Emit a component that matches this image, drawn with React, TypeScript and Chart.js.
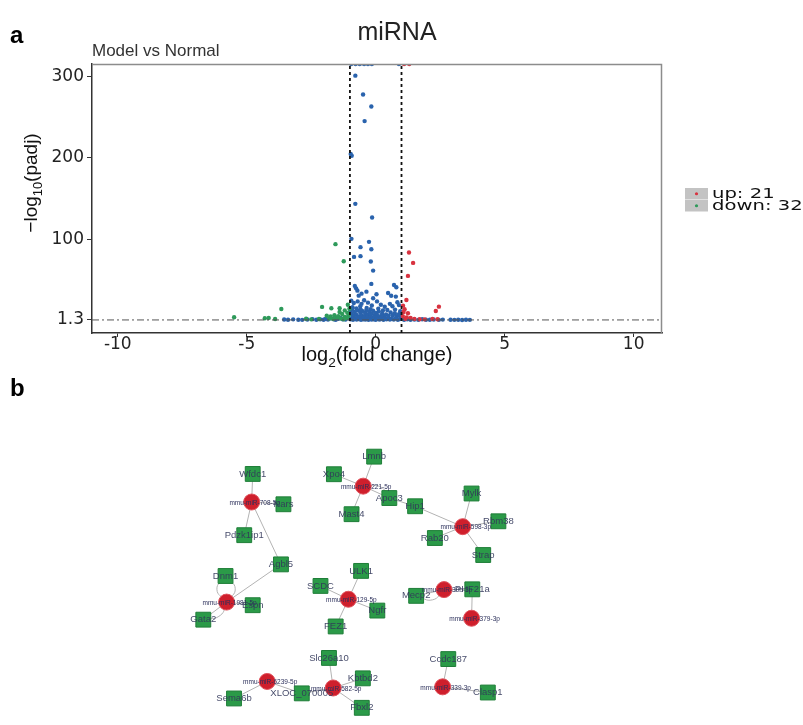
import React, { useEffect, useRef } from "react";
import { Chart, registerables } from "chart.js";

Chart.register(...registerables);

// ---------------- Panel a: volcano plot data ----------------
const TITLE = "miRNA";
const SUBTITLE = "Model vs Normal";
const xRange = [-11, 11.1];
const yRange = [-14.7, 315];
const xTicks = [-10, -5, 0, 5, 10];
const xTickLabels = ["-10", "-5", "0", "5", "10"];
const yTicks = [1.3, 100, 200, 300];
const yTickLabels = ["1.3", "100", "200", "300"];
const foldChangeCutoffs = [-1, 1];
const padjCutoff = 1.3;
const legendLabels = ["up: 21", "down: 32"];

// [log2 fold change, -log10 padj]
const upPoints: [number, number][] = [
  [1.1, 315], [1.3, 315], [1.29, 83.9], [1.45, 71.2], [1.25, 55.3], [1.19, 25.8],
  [1.06, 18.8], [1.12, 14.5], [1.25, 9.5], [1.08, 11], [2.45, 17.6], [2.33, 12.3],
  [1.05, 6], [1.2, 4.5], [1.35, 3.8], [1.15, 2.8], [1.5, 2.6], [1.7, 2.2],
  [1.9, 2], [2.2, 2.6], [2.4, 2.2],
];

const downPoints: [number, number][] = [
  [-5.49, 4.6], [-4.3, 3.4], [-4.15, 3.8], [-3.9, 2.5], [-3.66, 14.8], [-2.7, 2.8],
  [-2.5, 2], [-2.2, 2.5], [-2.08, 17.3], [-1.9, 6.5], [-1.8, 3], [-1.75, 5.5],
  [-1.72, 15.6], [-1.65, 2.5], [-1.6, 7], [-1.56, 94.2], [-1.5, 4], [-1.45, 6],
  [-1.4, 15.6], [-1.4, 11], [-1.35, 3], [-1.3, 8.5], [-1.25, 2.2], [-1.24, 73.3],
  [-1.2, 5], [-1.2, 13], [-1.15, 3.5], [-1.1, 10], [-1.1, 4.2], [-1.08, 20],
  [-1.05, 7], [-1.02, 15],
];

const noDiffPoints: [number, number][] = [
  [-0.95, 315], [-0.78, 315], [-0.62, 315], [-0.45, 315], [-0.3, 315], [-0.15, 315], [0.9, 315],
  [-0.79, 300.7], [-0.49, 277.7], [-0.17, 263], [-0.43, 245], [-0.97, 204.6], [-0.93, 202.5],
  [-0.79, 143.6], [-0.14, 126.8], [-0.94, 100.7], [-0.59, 90.5], [-0.26, 97], [-0.17, 88],
  [-0.84, 78.6], [-0.59, 79.5], [-0.19, 72.9], [-0.1, 61.8], [-0.17, 45.5], [-0.81, 43],
  [0.71, 44.2], [0.8, 41.4], [-0.71, 37.2], [-0.36, 36], [0.03, 32.8], [0.48, 34.4],
  [-0.66, 31.1], [-0.1, 27.9], [0.78, 29.9], [0.84, 23], [-0.76, 40], [-0.55, 33.5], [0.6, 31],
  [-0.95, 25], [-0.85, 22], [-0.7, 24], [-0.55, 21], [-0.45, 25.5], [-0.3, 22.5], [-0.15, 19],
  [0.05, 24], [0.2, 20], [0.35, 17.5], [0.55, 21], [0.65, 18], [0.9, 19.5], [-0.9, 17],
  [-0.75, 15.5], [-0.6, 18], [-0.35, 16], [-0.2, 14.5], [0.1, 15], [0.45, 13.5], [0.75, 14],
  [0.95, 12], [-0.98, 12.5],
  [-0.95, 9], [-0.88, 6.5], [-0.82, 11], [-0.76, 8], [-0.7, 13], [-0.66, 5.5], [-0.6, 10],
  [-0.55, 7], [-0.5, 12], [-0.45, 6], [-0.4, 9.5], [-0.36, 13.5], [-0.3, 7.5], [-0.25, 11],
  [-0.2, 5.5], [-0.15, 9], [-0.1, 12.5], [-0.05, 6.5], [0, 10], [0.05, 7.5], [0.12, 11.5],
  [0.18, 6], [0.25, 9], [0.32, 5.5], [0.4, 8], [0.5, 6.5], [0.58, 10.5], [0.66, 7],
  [0.74, 9.5], [0.82, 5.8], [0.9, 8.2], [0.96, 6.3], [-0.92, 13.8], [-0.58, 14], [0.28, 13],
  [-0.98, 2.1], [-0.93, 3.5], [-0.88, 1.6], [-0.84, 4.4], [-0.79, 2.7], [-0.74, 1.9],
  [-0.7, 3.8], [-0.65, 2.3], [-0.61, 4.8], [-0.57, 1.5], [-0.52, 3.1], [-0.48, 2],
  [-0.44, 4.2], [-0.4, 1.7], [-0.36, 2.9], [-0.32, 3.9], [-0.28, 1.5], [-0.24, 2.6],
  [-0.2, 4.6], [-0.16, 1.9], [-0.12, 3.3], [-0.08, 2.2], [-0.04, 4.1], [0, 1.6],
  [0.04, 2.9], [0.09, 3.8], [0.14, 1.8], [0.19, 2.5], [0.24, 4.3], [0.3, 1.5],
  [0.36, 3.1], [0.42, 2.2], [0.48, 3.9], [0.55, 1.7], [0.62, 2.8], [0.7, 1.9],
  [0.78, 3.4], [0.86, 1.6], [0.94, 2.5],
  [-3.55, 1.8], [-3.4, 1.5], [-3.2, 2], [-3.0, 1.6], [-2.85, 1.4], [-2.65, 1.9],
  [-2.45, 2.3], [-2.3, 1.6], [-2.15, 2.0], [-2.02, 1.5], [-1.95, 2.6], [-1.85, 1.8],
  [-1.75, 3.2], [-1.62, 2.1], [-1.55, 1.6], [-1.45, 2.8], [-1.36, 3.8], [-1.28, 2.2],
  [-1.17, 1.7], [-1.07, 4.5],
  [1.1, 1.6], [1.22, 2.1], [1.35, 1.5], [1.5, 1.9], [1.65, 1.4], [1.8, 2.2], [1.95, 1.6],
  [2.1, 1.5], [2.25, 1.8], [2.45, 1.4], [2.6, 1.7], [2.9, 1.6], [3.05, 1.4], [3.2, 1.5],
  [3.35, 1.3], [3.5, 1.6], [3.65, 1.4],
];

// ---------------- Panel b: network data ----------------
// [name, layout x, layout y] in a 0-100 layout space
const mirnaNodes: [string, number, number][] = [
  ["mmu-miR-708-5p", 20.3, 74.6],
  ["mmu-miR-1981-5p", 13.2, 39.3],
  ["mmu-miR-221-5p", 51.9, 80.2],
  ["mmu-miR-598-3p", 80.1, 65.9],
  ["mmu-miR-129-5p", 47.7, 40.3],
  ["mmu-miR-30b-3p", 74.8, 43.7],
  ["mmu-miR-379-3p", 82.6, 33.6],
  ["mmu-miR-582-5p", 43.4, 9.0],
  ["mmu-miR-6239-5p", 24.7, 11.3],
  ["mmu-miR-339-3p", 74.4, 9.4],
];

const geneNodes: [string, number, number][] = [
  ["Wfdc1", 20.6, 84.5], ["Nars", 29.3, 73.8], ["Pdzk1ip1", 18.2, 62.9], ["Agbl5", 28.6, 52.6],
  ["Dnm1", 12.9, 48.5], ["Espn", 20.6, 38.2], ["Gata2", 6.6, 33.1],
  ["Lmnb", 55.0, 90.6], ["Xpo4", 43.6, 84.4], ["Apoc3", 59.3, 76.0], ["Mast4", 48.6, 70.3],
  ["Hip1", 66.6, 73.1], ["Mylk", 82.6, 77.6], ["Rbm38", 90.2, 67.8], ["Rab20", 72.2, 61.9],
  ["Strap", 85.9, 55.9], ["ULK1", 51.3, 50.3], ["SCDC", 39.8, 45.0], ["Ngfr", 55.9, 36.3],
  ["FEZ1", 44.1, 30.7], ["PHF21a", 82.8, 43.8], ["Mecp2", 66.9, 41.5],
  ["Slc26a10", 42.2, 19.6], ["Kbtbd2", 51.8, 12.4], ["XLOC_070005", 34.5, 7.1],
  ["Fbxl2", 51.5, 2.0], ["Sema6b", 15.3, 5.3], ["Ccdc187", 76.0, 19.2], ["Clasp1", 87.2, 7.4],
];

const edges: [string, string][] = [
  ["mmu-miR-708-5p", "Wfdc1"], ["mmu-miR-708-5p", "Nars"], ["mmu-miR-708-5p", "Pdzk1ip1"],
  ["mmu-miR-708-5p", "Agbl5"], ["mmu-miR-1981-5p", "Agbl5"], ["mmu-miR-1981-5p", "Espn"],
  ["mmu-miR-1981-5p", "Gata2"],
  ["mmu-miR-221-5p", "Lmnb"], ["mmu-miR-221-5p", "Xpo4"], ["mmu-miR-221-5p", "Mast4"],
  ["mmu-miR-221-5p", "Apoc3"], ["Apoc3", "Hip1"], ["mmu-miR-598-3p", "Hip1"],
  ["mmu-miR-598-3p", "Mylk"], ["mmu-miR-598-3p", "Rbm38"], ["mmu-miR-598-3p", "Rab20"],
  ["mmu-miR-598-3p", "Strap"],
  ["mmu-miR-129-5p", "ULK1"], ["mmu-miR-129-5p", "SCDC"], ["mmu-miR-129-5p", "Ngfr"],
  ["mmu-miR-129-5p", "FEZ1"],
  ["mmu-miR-30b-3p", "PHF21a"], ["mmu-miR-30b-3p", "Mecp2"], ["mmu-miR-379-3p", "PHF21a"],
  ["mmu-miR-582-5p", "Slc26a10"], ["mmu-miR-582-5p", "Kbtbd2"], ["mmu-miR-582-5p", "Fbxl2"],
  ["mmu-miR-582-5p", "XLOC_070005"], ["mmu-miR-6239-5p", "XLOC_070005"],
  ["mmu-miR-6239-5p", "Sema6b"],
  ["mmu-miR-339-3p", "Ccdc187"], ["mmu-miR-339-3p", "Clasp1"],
];

// [from, to, bend]
const curvedEdges: [string, string, number][] = [
  ["Dnm1", "mmu-miR-1981-5p", 2.6],
  ["Dnm1", "mmu-miR-1981-5p", -2.6],
  ["Gata2", "mmu-miR-1981-5p", -2.2],
  ["Apoc3", "mmu-miR-221-5p", -2.2],
  ["Mecp2", "mmu-miR-30b-3p", -2.6],
];

const FONT = "'Liberation Sans', Arial, Helvetica, sans-serif";
const BLUE = "#2a63ad";
const GREEN = "#2e9a5a";
const RED = "#d8323f";

function toXY(list: [number, number][]) {
  return list.map(([x, y]) => ({ x, y }));
}

function drawRich(ctx: CanvasRenderingContext2D, parts: { t: string; sub?: boolean }[], cx: number, baseline: number, size: number) {
  const subSize = size * 0.68;
  const widths = parts.map((p) => {
    ctx.font = `${p.sub ? subSize : size}px ${FONT}`;
    return ctx.measureText(p.t).width;
  });
  const total = widths.reduce((a, b) => a + b, 0);
  let x = cx - total / 2;
  ctx.textAlign = "left";
  ctx.textBaseline = "alphabetic";
  parts.forEach((p, i) => {
    ctx.font = `${p.sub ? subSize : size}px ${FONT}`;
    ctx.fillText(p.t, x, baseline + (p.sub ? size * 0.28 : 0));
    x += widths[i];
  });
}

const volcanoDecor = {
  id: "volcanoDecor",
  afterDraw(chart: any) {
    const { ctx, chartArea: a } = chart;
    ctx.save();
    // panel border (top and right)
    ctx.strokeStyle = "#8c8c8c";
    ctx.lineWidth = 1.5;
    ctx.beginPath();
    ctx.moveTo(a.left, a.top + 0.5);
    ctx.lineTo(a.right - 0.5, a.top + 0.5);
    ctx.lineTo(a.right - 0.5, a.bottom);
    ctx.stroke();

    // panel letter, title, subtitle
    ctx.fillStyle = "#000";
    ctx.textBaseline = "alphabetic";
    ctx.textAlign = "left";
    ctx.font = `bold 24px ${FONT}`;
    ctx.fillText("a", 10, 43);
    ctx.fillStyle = "#222";
    ctx.font = `25px ${FONT}`;
    ctx.textAlign = "center";
    ctx.fillText(TITLE, 397, 40);
    ctx.font = `17px ${FONT}`;
    ctx.textAlign = "left";
    ctx.fillStyle = "#333";
    ctx.fillText(SUBTITLE, a.left, 56);

    // axis titles
    ctx.fillStyle = "#111";
    drawRich(ctx, [{ t: "log" }, { t: "2", sub: true }, { t: "(fold change)" }], 377, 361, 20);
    ctx.save();
    ctx.translate(37, 183);
    ctx.rotate(-Math.PI / 2);
    drawRich(ctx, [{ t: "\u2212log" }, { t: "10", sub: true }, { t: "(padj)" }], 0, 0, 19);
    ctx.restore();

    // legend
    const colors = [RED, GREEN];
    legendLabels.forEach((label, i) => {
      const by = 188 + i * 12;
      ctx.fillStyle = "#c3c3c3";
      ctx.fillRect(685, by, 23, 11.5);
      ctx.fillStyle = colors[i];
      ctx.beginPath();
      ctx.arc(696.5, by + 5.75, 1.6, 0, Math.PI * 2);
      ctx.fill();
      ctx.fillStyle = "#111";
      ctx.font = `14px 'DejaVu Sans', ${FONT}`;
      ctx.save();
      ctx.translate(712, by + 10);
      ctx.scale(1.4, 1);
      ctx.textAlign = "left";
      ctx.fillText(label, 0, 0);
      ctx.restore();
    });
    ctx.restore();
  },
};

const networkLabels = {
  id: "networkLabels",
  afterDatasetsDraw(chart: any) {
    const ctx = chart.ctx;
    ctx.save();
    chart.data.datasets.forEach((ds: any, i: number) => {
      if (!ds.nodeLabels) return;
      const meta = chart.getDatasetMeta(i);
      meta.data.forEach((el: any, j: number) => {
        const label = ds.nodeLabels[j];
        ctx.textAlign = "center";
        ctx.textBaseline = "middle";
        if (ds.nodeKind === "mirna") {
          ctx.font = `6.5px ${FONT}`;
          ctx.fillStyle = "#2b2f5a";
          ctx.fillText(label, el.x + 3, el.y + 1);
        } else {
          ctx.font = `9.5px ${FONT}`;
          ctx.fillStyle = "rgba(50,55,90,0.9)";
          ctx.fillText(label, el.x, el.y);
        }
      });
    });
    ctx.font = `bold 24px ${FONT}`;
    ctx.fillStyle = "#000";
    ctx.textAlign = "left";
    ctx.textBaseline = "alphabetic";
    ctx.fillText("b", 10, 26);
    ctx.restore();
  },
};

export default function App() {
  const refA = useRef<HTMLCanvasElement>(null);
  const refB = useRef<HTMLCanvasElement>(null);

  useEffect(() => {
    const pointDs = (label: string, pts: [number, number][], color: string, order: number) => ({
      label,
      data: toXY(pts),
      backgroundColor: color,
      borderColor: color,
      borderWidth: 0,
      pointRadius: 2.2,
      pointHoverRadius: 2.2,
      order,
    });

    const vLine = (x: number) => ({
      label: "fc" + x,
      data: [{ x, y: yRange[0] }, { x, y: yRange[1] }],
      showLine: true,
      borderColor: "#111",
      borderWidth: 1.8,
      borderDash: [3, 3],
      pointRadius: 0,
      order: 0,
    });

    const chartA = new Chart(refA.current as HTMLCanvasElement, {
      type: "scatter",
      data: {
        datasets: [
          ...foldChangeCutoffs.map(vLine),
          {
            label: "padj",
            data: [{ x: xRange[0], y: padjCutoff }, { x: xRange[1], y: padjCutoff }],
            showLine: true,
            borderColor: "#555",
            borderWidth: 1,
            borderDash: [7, 3, 2, 3],
            pointRadius: 0,
            order: 0,
          },
          pointDs("up", upPoints, RED, 1),
          pointDs("down", downPoints, GREEN, 1),
          pointDs("nodiff", noDiffPoints, BLUE, 2),
        ] as any,
      },
      options: {
        animation: false,
        responsive: false,
        devicePixelRatio: 1,
        events: [],
        layout: { padding: { left: 0, top: 64, right: 141, bottom: 0 } },
        plugins: { legend: { display: false }, tooltip: { enabled: false } },
        scales: {
          x: {
            type: "linear",
            min: xRange[0],
            max: xRange[1],
            afterBuildTicks: (s: any) => { s.ticks = xTicks.map((v) => ({ value: v })); },
            afterFit: (s: any) => { s.height = 37; },
            grid: { drawOnChartArea: false, drawTicks: true, tickLength: 4, color: "#333", lineWidth: 1 },
            border: { display: true, color: "#333", width: 1.5 },
            ticks: {
              autoSkip: false,
              maxRotation: 0,
              padding: -3,
              color: "#222",
              font: { family: "'DejaVu Sans', sans-serif", size: 17 },
              callback: (v: any) => xTickLabels[xTicks.indexOf(Number(v))] ?? "",
            },
          },
          y: {
            type: "linear",
            min: yRange[0],
            max: yRange[1],
            afterBuildTicks: (s: any) => { s.ticks = yTicks.map((v) => ({ value: v })); },
            afterFit: (s: any) => { s.width = 92; },
            grid: { drawOnChartArea: false, drawTicks: true, tickLength: 5, color: "#333", lineWidth: 1 },
            border: { display: true, color: "#333", width: 1.5 },
            ticks: {
              autoSkip: false,
              padding: 3,
              color: "#222",
              font: { family: "'DejaVu Sans', sans-serif", size: 17 },
              callback: (v: any) => yTickLabels[yTicks.indexOf(Number(v))] ?? "",
            },
          },
        },
      } as any,
      plugins: [volcanoDecor],
    });

    // network
    const pos = new Map<string, [number, number]>();
    [...mirnaNodes, ...geneNodes].forEach(([n, x, y]) => pos.set(n, [x, y]));
    const edgeStyle = {
      showLine: true,
      borderColor: "#b3b3b3",
      borderWidth: 1,
      pointRadius: 0,
      order: 3,
      clip: false,
    };
    const straight = edges.map(([s, t]) => {
      const [x1, y1] = pos.get(s)!;
      const [x2, y2] = pos.get(t)!;
      return { ...edgeStyle, data: [{ x: x1, y: y1 }, { x: x2, y: y2 }] };
    });
    const curved = curvedEdges.map(([s, t, bend]) => {
      const [x1, y1] = pos.get(s)!;
      const [x2, y2] = pos.get(t)!;
      const dx = x2 - x1, dy = y2 - y1;
      const len = Math.hypot(dx, dy) || 1;
      const mx = (x1 + x2) / 2 + (-dy / len) * bend;
      const my = (y1 + y2) / 2 + (dx / len) * bend;
      return { ...edgeStyle, tension: 0.5, data: [{ x: x1, y: y1 }, { x: mx, y: my }, { x: x2, y: y2 }] };
    });

    const chartB = new Chart(refB.current as HTMLCanvasElement, {
      type: "scatter",
      data: {
        datasets: [
          ...straight,
          ...curved,
          {
            data: geneNodes.map(([, x, y]) => ({ x, y })),
            nodeLabels: geneNodes.map(([n]) => n),
            nodeKind: "gene",
            pointStyle: "rect",
            pointRadius: 10.5,
            backgroundColor: "#2b9a48",
            borderColor: "#1f7e38",
            borderWidth: 1,
            order: 1,
            clip: false,
          },
          {
            data: mirnaNodes.map(([, x, y]) => ({ x, y })),
            nodeLabels: mirnaNodes.map(([n]) => n),
            nodeKind: "mirna",
            pointStyle: "circle",
            pointRadius: 8,
            backgroundColor: "#cf1f2c",
            borderColor: "#e0505a",
            borderWidth: 1,
            order: 0,
            clip: false,
          },
        ] as any,
      },
      options: {
        animation: false,
        responsive: false,
        devicePixelRatio: 1,
        events: [],
        layout: { padding: { left: 180, right: 270, top: 60, bottom: 0 } },
        plugins: { legend: { display: false }, tooltip: { enabled: false } },
        scales: {
          x: { type: "linear", min: 0, max: 100, display: false },
          y: { type: "linear", min: 0, max: 100, display: false },
        },
      } as any,
      plugins: [networkLabels],
    });

    return () => {
      chartA.destroy();
      chartB.destroy();
    };
  }, []);

  return (
    <div style={{ position: "absolute", left: 0, top: 0, width: 803, height: 725, background: "#fff", overflow: "hidden" }}>
      <canvas ref={refA} width={803} height={370} style={{ position: "absolute", left: 0, top: 0, width: 803, height: 370 }} />
      <canvas ref={refB} width={803} height={355} style={{ position: "absolute", left: 0, top: 370, width: 803, height: 355 }} />
    </div>
  );
}
